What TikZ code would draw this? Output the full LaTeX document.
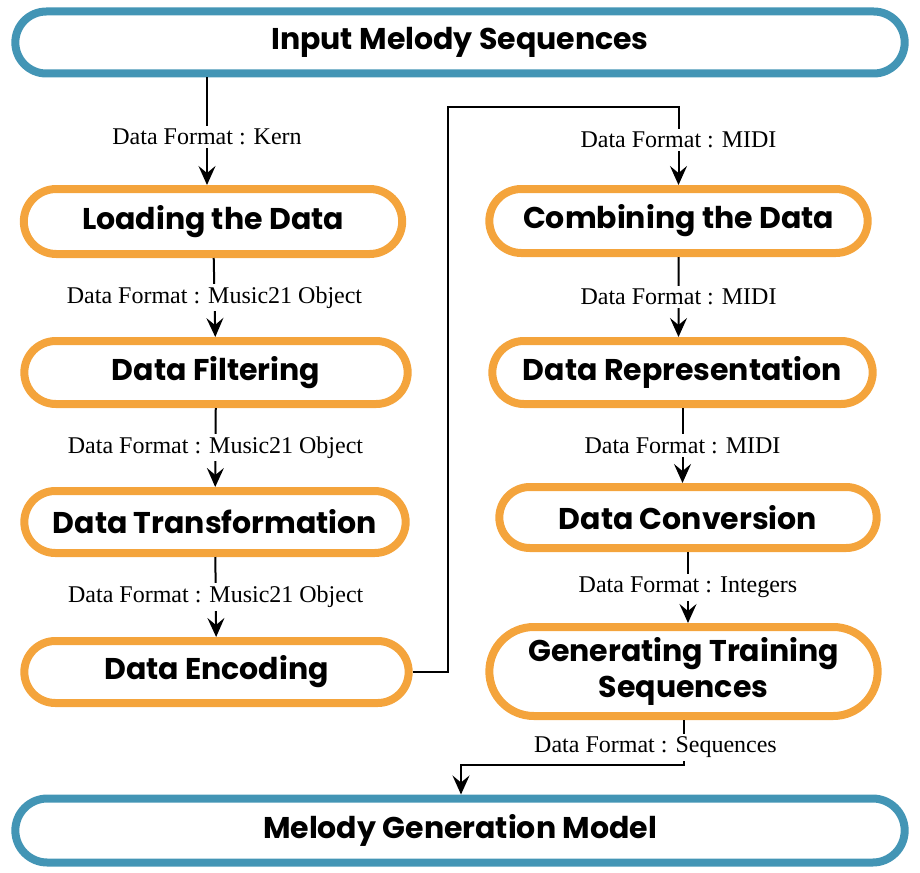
\documentclass[tikz,border=0pt]{standalone}
\usepackage{fontspec}
\setmainfont{Liberation Serif}
\newfontfamily\laatikkofont{Poppins}
\usepackage{tikz}
\usetikzlibrary{shapes.misc,arrows.meta}
\definecolor{oranssi}{HTML}{F4A43C}
\definecolor{sininen}{HTML}{4395B5}
\tikzset{
  vaihe/.style={rounded rectangle, draw=oranssi, line width=8pt, minimum height=65pt,
    font=\laatikkofont\bfseries\fontsize{30}{36}\selectfont, align=center},
  paa/.style={vaihe, draw=sininen, minimum width=896pt, minimum height=62pt},
  nuoli/.style={-{Stealth[length=19pt,width=17pt,inset=7pt]}, line width=2pt},
  muoto/.style={fill=white, inner sep=3pt, font=\fontsize{24}{26}\selectfont}
}

\begin{document}
\begin{tikzpicture}[x=1pt,y=-1pt]
        % Kuvan rajat
        \useasboundingbox (0,0) rectangle (920,872);

        % Alku- ja loppulaatikot
        \node[paa] (IN) at (460,42.5) {Input Melody Sequences};
        \node[paa, minimum height=64pt] (M) at (460,830.5) {Melody Generation Model};

        % Vasen sarake
        \node[vaihe, minimum width=385pt] (L) at (213,221.5) {Loading the Data};
        \node[vaihe, minimum width=390pt, minimum height=63pt] (F) at (216,372.5) {Data Filtering};
        \node[vaihe, minimum width=388pt, minimum height=62pt] (T) at (215,522) {Data Transformation};
        \node[vaihe, minimum width=391pt, minimum height=62pt] (E) at (216.5,672) {Data Encoding};

        % Oikea sarake
        \node[vaihe, minimum width=385pt, minimum height=64pt] (C) at (678.5,221) {Combining the Data};
        \node[vaihe, minimum width=387pt, minimum height=63pt] (R) at (682.5,372.5) {Data Representation};
        \node[vaihe, minimum width=384pt, minimum height=61pt] (K) at (688,517.5) {Data Conversion};
        \node[vaihe, minimum width=395pt, minimum height=89pt] (G) at (683.5,671.5) {Generating Training\\Sequences};

        % Mutkien apupisteet
        \coordinate (B1) at (448,107);
        \coordinate (B2) at (461,765);

        % Nuolet ja dataformaatit
        \draw[nuoli] ([xshift=-6pt]IN.south -| L.north) -- ([xshift=-6pt]L.north) node[muoto, pos=0.55] {Data Format : Kern};
        \draw[nuoli] (L) -- (F) node[muoto, midway] {Data Format : Music21 Object};
        \draw[nuoli] (F) -- (T) node[muoto, midway] {Data Format : Music21 Object};
        \draw[nuoli] (T) -- (E) node[muoto, midway] {Data Format : Music21 Object};
        \draw[nuoli] (E.east) -| (B1) -| (C.north) node[muoto, pos=0.71] {Data Format : MIDI};
        \draw[nuoli] (C) -- (C |- R.north) node[muoto, midway] {Data Format : MIDI};
        \draw[nuoli] (R.south) -- (R.south |- K.north) node[muoto, midway] {Data Format : MIDI};
        \draw[nuoli] (K.south) -- (K.south |- G.north) node[muoto, midway] {Data Format : Integers};
        \draw[nuoli] (G.south) |- (B2) node[muoto, pos=0.3, xshift=-28pt] {Data Format : Sequences}
          -- (B2 |- M.north);
      \end{tikzpicture}
\end{document}
